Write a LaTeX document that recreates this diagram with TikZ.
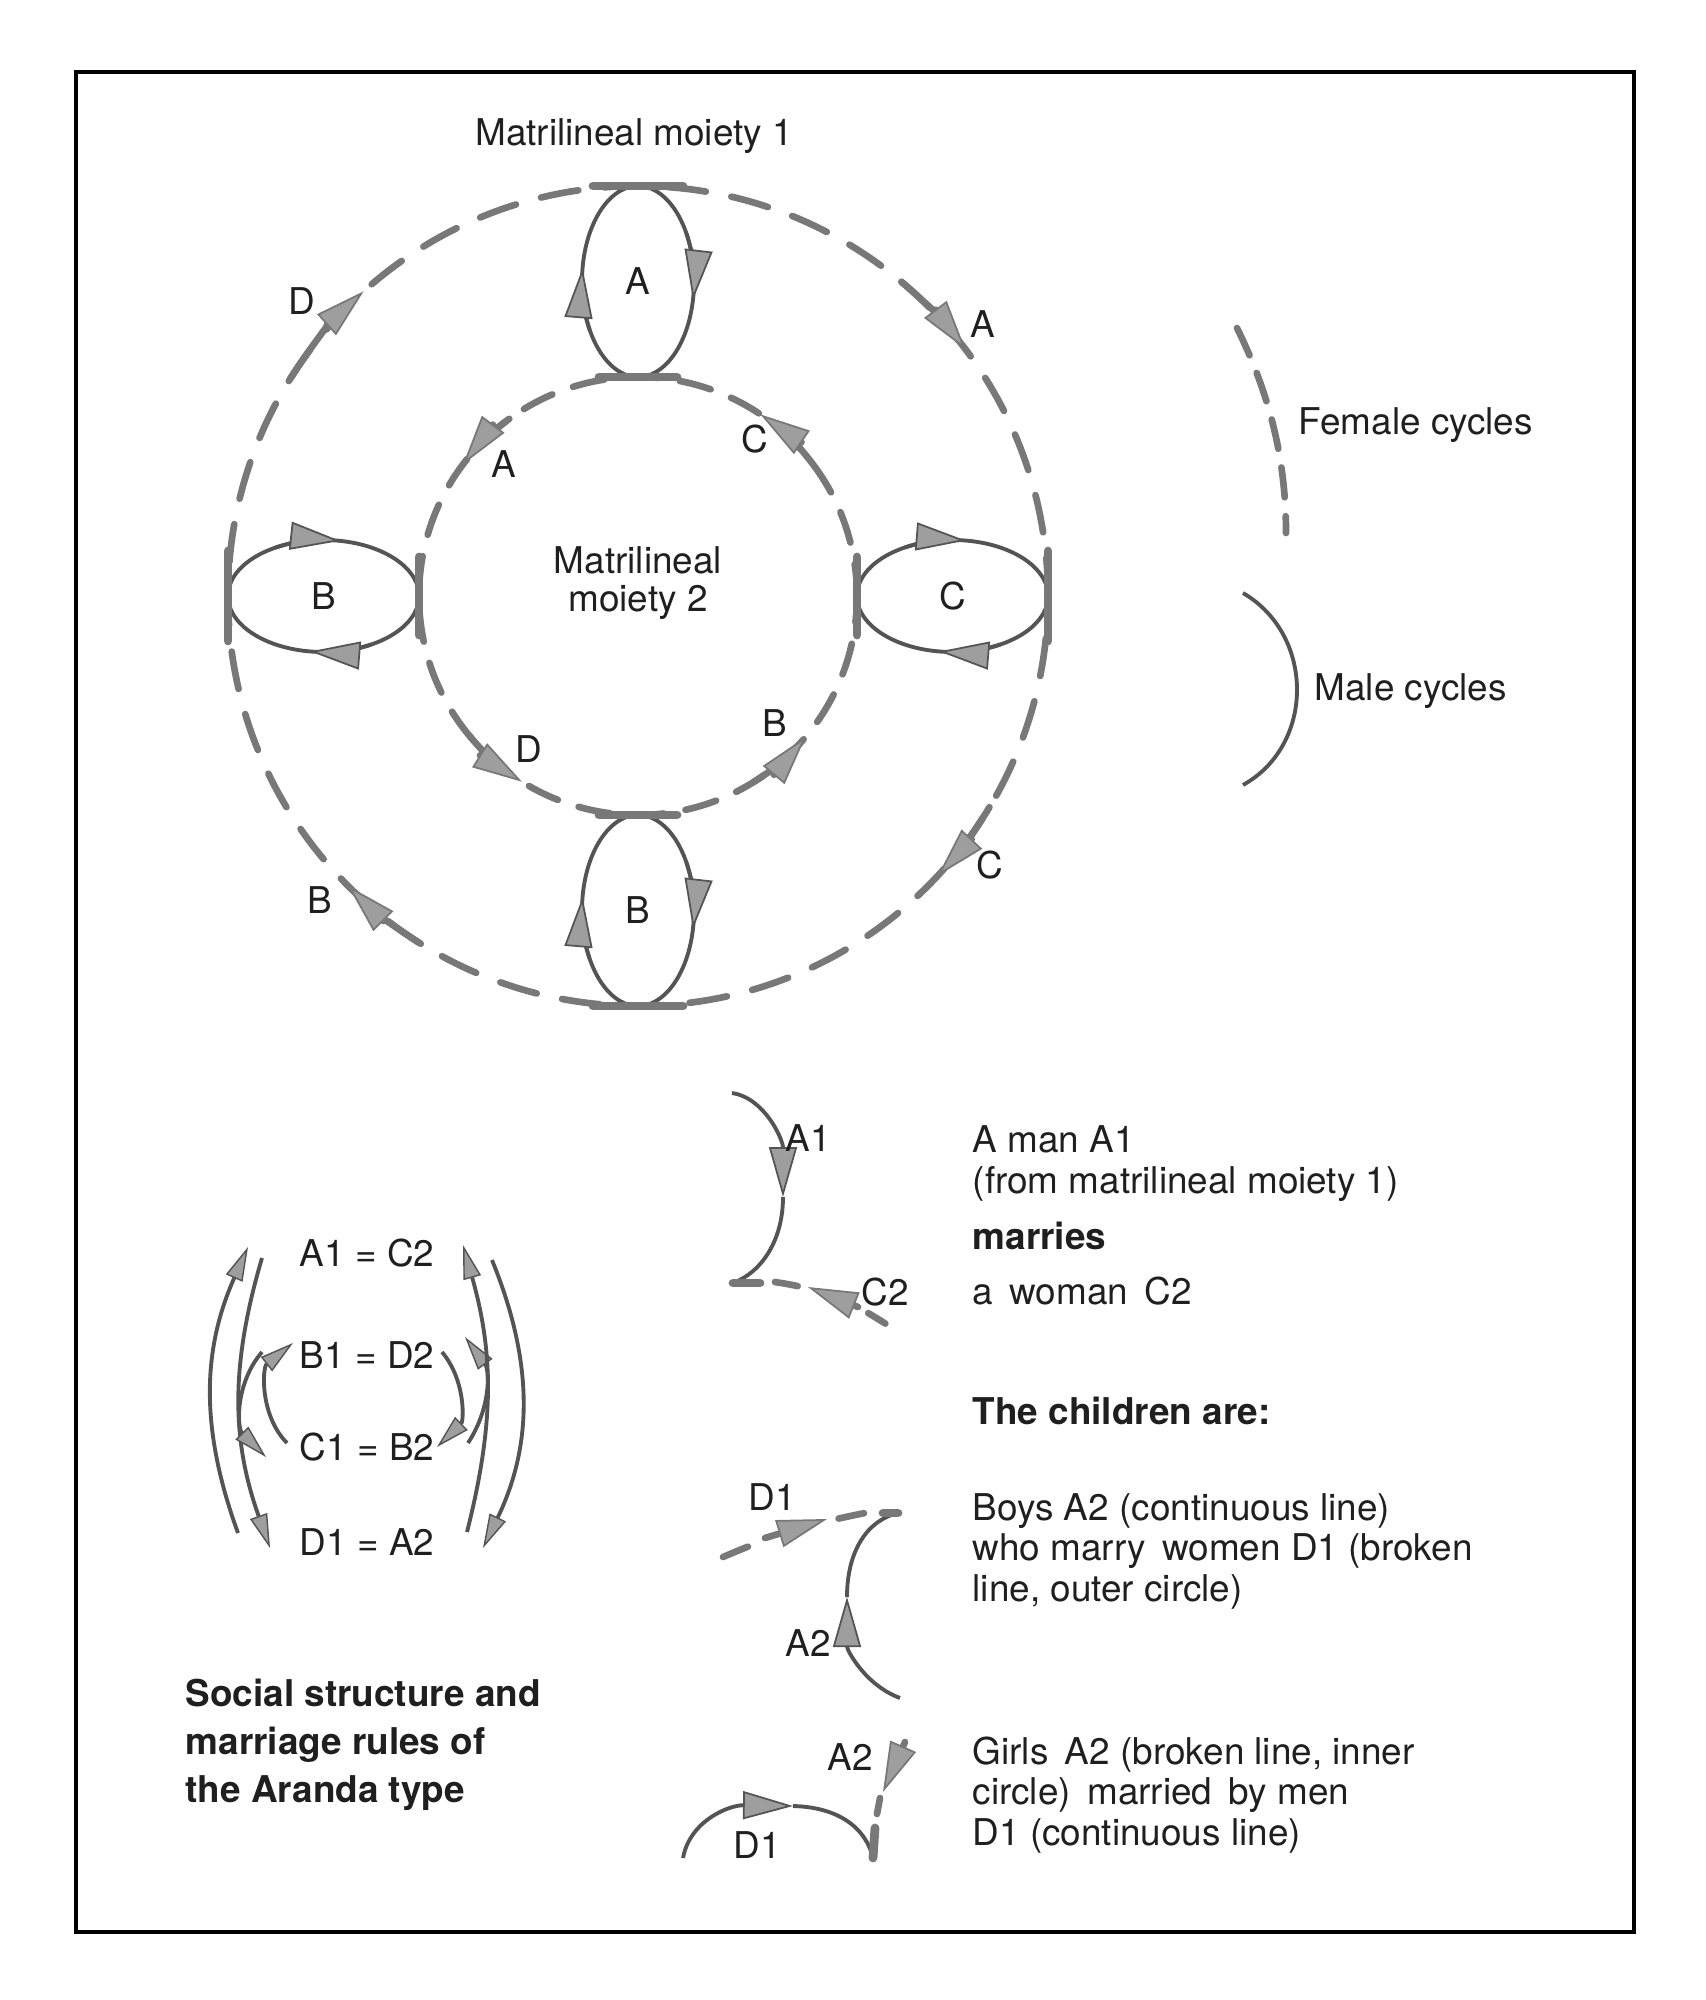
\documentclass[tikz,border=0pt]{standalone}
\usepackage{fontspec}
\setmainfont{TeX Gyre Heros}
\usetikzlibrary{arrows.meta}
\definecolor{cycgray}{gray}{0.47}
\definecolor{malegray}{gray}{0.33}
\definecolor{tipgray}{gray}{0.62}
\definecolor{txtgray}{gray}{0.12}

\begin{document}
\begin{tikzpicture}[
    lbl/.style={font=\fontsize{10.5}{11.5}\selectfont, text=txtgray, inner sep=0pt},
    boldlbl/.style={lbl, font=\fontsize{10.5}{13.6}\selectfont\bfseries},
    female/.style={draw=cycgray, line width=1.9pt, line cap=round, dash pattern=on 0.38cm off 0.26cm},
    femalein/.style={female, dash pattern=on 0.32cm off 0.22cm},
    shaft/.style={draw=cycgray, line width=1.9pt, line cap=round},
    male/.style={draw=malegray, line width=1.1pt},
    capbar/.style={draw=cycgray, line width=2.5pt, line cap=round},
    arrowhd/.style={-{Triangle[length=5mm, width=2.8mm, fill=tipgray, line width=0.5pt]}},
    eqhd/.style={-{Triangle[length=3.4mm, width=1.8mm, fill=tipgray, line width=0.4pt]}}
]
\useasboundingbox (0,0) rectangle (17.05,-20);

% Frame
\draw[line width=1.2pt] (0.76,-0.72) rectangle (16.34,-19.32);

% --- Female cycles (the two dashed circles) ---
\coordinate (c) at (6.38,-5.96);
\draw[female] (c) circle[radius=4.1];
\draw[femalein] (c) circle[radius=2.19];

% --- Male cycles (ellipses between the circles) ---
\node[lbl] (mtop) at (6.38,-2.815) {A};
\node[lbl] (mleft) at (3.235,-5.96) {B};
\node[lbl] (mright) at (9.525,-5.96) {C};
\node[lbl] (mbot) at (6.38,-9.105) {B};

\draw[male] (mtop.center) ellipse[x radius=0.56, y radius=0.955];
\draw[male] (mbot.center) ellipse[x radius=0.56, y radius=0.955];
\draw[male] (mleft.center) ellipse[x radius=0.955, y radius=0.56];
\draw[male] (mright.center) ellipse[x radius=0.955, y radius=0.56];

\draw[male, arrowhd] ([shift={(210:0.56 and 0.955)}]mtop.center) arc[start angle=210, end angle=172, x radius=0.56, y radius=0.955];
\draw[male, arrowhd] ([shift={(30:0.56 and 0.955)}]mtop.center) arc[start angle=30, end angle=-11, x radius=0.56, y radius=0.955];
\draw[male, arrowhd] ([shift={(210:0.56 and 0.955)}]mbot.center) arc[start angle=210, end angle=172, x radius=0.56, y radius=0.955];
\draw[male, arrowhd] ([shift={(30:0.56 and 0.955)}]mbot.center) arc[start angle=30, end angle=-11, x radius=0.56, y radius=0.955];
\draw[male, arrowhd] ([shift={(120:0.955 and 0.56)}]mleft.center) arc[start angle=120, end angle=80, x radius=0.955, y radius=0.56];
\draw[male, arrowhd] ([shift={(300:0.955 and 0.56)}]mleft.center) arc[start angle=300, end angle=262, x radius=0.955, y radius=0.56];
\draw[male, arrowhd] ([shift={(120:0.955 and 0.56)}]mright.center) arc[start angle=120, end angle=82, x radius=0.955, y radius=0.56];
\draw[male, arrowhd] ([shift={(300:0.955 and 0.56)}]mright.center) arc[start angle=300, end angle=262, x radius=0.955, y radius=0.56];

% bars where the ellipses touch the circles
\foreach \a in {0,90,180,270} {
  \draw[capbar] ([shift={(\a:4.1)}]c) ++(\a+90:0.45) -- ++(\a-90:0.9);
  \draw[capbar] ([shift={(\a:2.19)}]c) ++(\a+90:0.39) -- ++(\a-90:0.78);
}

% arrows on the outer circle (clockwise)
\draw[shaft, arrowhd] ([shift={(148:4.1)}]c) arc[start angle=148, end angle=132, radius=4.1];
\draw[shaft, arrowhd] ([shift={(50:4.1)}]c) arc[start angle=50, end angle=37, radius=4.1];
\draw[shaft, arrowhd] ([shift={(-31:4.1)}]c) arc[start angle=-31, end angle=-43, radius=4.1];
\draw[shaft, arrowhd] ([shift={(238:4.1)}]c) arc[start angle=238, end angle=225, radius=4.1];

% arrows on the inner circle (counter-clockwise)
\draw[shaft, arrowhd] ([shift={(126:2.19)}]c) arc[start angle=126, end angle=143, radius=2.19];
\draw[shaft, arrowhd] ([shift={(37:2.19)}]c) arc[start angle=37, end angle=56, radius=2.19];
\draw[shaft, arrowhd] ([shift={(220:2.19)}]c) arc[start angle=220, end angle=238, radius=2.19];
\draw[shaft, arrowhd] ([shift={(302:2.19)}]c) arc[start angle=302, end angle=320, radius=2.19];

% circle labels
\node[lbl] (moiety1) at (6.34,-1.36) {Matrilineal moiety 1};
\node[lbl, align=center, font=\fontsize{10.5}{10.6}\selectfont] (moiety2) at (6.38,-5.83) {Matrilineal\\moiety 2};

\node[lbl] (oD) at (3.02,-3.01) {D};
\node[lbl] (oA) at (9.83,-3.24) {A};
\node[lbl] (oB) at (3.20,-9.00) {B};
\node[lbl] (oC) at (9.90,-8.65) {C};

\node[lbl] (iA) at (5.04,-4.64) {A};
\node[lbl] (iC) at (7.55,-4.39) {C};
\node[lbl] (iD) at (5.29,-7.49) {D};
\node[lbl] (iB) at (7.75,-7.23) {B};

% --- Legend ---
\coordinate (fem1) at (12.37,-3.28);
\coordinate (fem2) at (12.86,-5.33);
\coordinate (mal1) at (12.43,-5.93);
\coordinate (mal2) at (12.43,-7.85);
\draw[female, dash pattern=on 0.3cm off 0.19cm] (fem1) .. controls (12.70,-3.95) and (12.86,-4.6) .. (fem2);
\draw[male] (mal1) .. controls (13.15,-6.35) and (13.15,-7.45) .. (mal2);
\node[lbl, anchor=west] (femtxt) at (12.98,-4.25) {Female cycles};
\node[lbl, anchor=west] (maltxt) at (13.14,-6.91) {Male cycles};

% --- Marriage equations ---
\node[lbl] (eq1) at (3.67,-12.53) {A1 = C2};
\node[lbl] (eq2) at (3.67,-13.55) {B1 = D2};
\node[lbl] (eq3) at (3.67,-14.47) {C1 = B2};
\node[lbl] (eq4) at (3.67,-15.42) {D1 = A2};

\draw[male, eqhd] ([shift={(-1.29,0.09)}]eq4.center) to[bend left=22] ([shift={(-1.19,0.06)}]eq1.center);
\draw[male, eqhd] ([shift={(-1.05,-0.05)}]eq1.center) to[bend right=18] ([shift={(-0.97,-0.06)}]eq4.center);
\draw[male, eqhd] ([shift={(-1.05,0.03)}]eq2.center) to[bend right=43] ([shift={(-1.01,-0.10)}]eq3.center);
\draw[male, eqhd] ([shift={(-0.80,0.04)}]eq3.center) to[bend left=48] ([shift={(-0.74,0.12)}]eq2.center);
\draw[male, eqhd] ([shift={(0.75,0.03)}]eq2.center) to[bend left=43] ([shift={(0.70,0.0)}]eq3.center);
\draw[male, eqhd] ([shift={(1.01,0.04)}]eq3.center) to[bend right=35] ([shift={(0.98,0.18)}]eq2.center);
\draw[male, eqhd] ([shift={(1.00,0.10)}]eq4.center) to[bend right=15] ([shift={(0.96,0.08)}]eq1.center);
\draw[male, eqhd] ([shift={(1.25,-0.07)}]eq1.center) to[bend left=24] ([shift={(1.16,-0.06)}]eq4.center);

\node[boldlbl, anchor=base west, align=left] (caption) at (1.85,-18.02) {Social structure and\\marriage rules of\\the Aranda type};

% --- A man A1 marries a woman C2 ---
\coordinate (a1top) at (7.32,-10.93);
\coordinate (a1mid) at (7.83,-11.97);
\coordinate (a1bot) at (7.33,-12.83);
\draw[male, arrowhd] (a1top) .. controls (7.65,-10.98) and (7.83,-11.4) .. (a1mid);
\draw[male] (a1mid) .. controls (7.83,-12.4) and (7.62,-12.72) .. (a1bot);
\draw[capbar] (a1bot) -- ++(0.27,0);
\coordinate (c2a) at (7.75,-12.82);
\coordinate (c2b) at (8.86,-13.24);
\coordinate (c2s) at (8.58,-13.07);
\coordinate (c2t) at (8.08,-12.87);
\draw[female, dash pattern=on 0.23cm off 0.76cm on 0.2cm off 1cm] (c2a) to[bend left=12] (c2b);
\draw[shaft, arrowhd] (c2s) -- (c2t);
\node[lbl] (lA1) at (8.08,-11.38) {A1};
\node[lbl] (lC2) at (8.85,-12.92) {C2};

\node[lbl, anchor=base west, align=left] (man) at (9.72,-11.93) {A man A1\\(from matrilineal moiety 1)};
\node[boldlbl, anchor=base west] (marries) at (9.72,-12.49) {marries};
\node[lbl, anchor=base west] (woman) at (9.72,-13.04) {a \,woman \,C2};
\node[boldlbl, anchor=base west] (children) at (9.72,-14.24) {The children are:};

% --- Boys A2 ---
\coordinate (a2bot) at (9.00,-16.98);
\coordinate (a2mid) at (8.47,-15.97);
\coordinate (a2top) at (8.98,-15.13);
\draw[male, arrowhd] (a2bot) .. controls (8.65,-16.85) and (8.47,-16.5) .. (a2mid);
\draw[male] (a2mid) .. controls (8.47,-15.5) and (8.68,-15.2) .. (a2top);
\draw[capbar] (a2top) -- ++(-0.15,0);
\coordinate (d1a) at (7.23,-15.57);
\coordinate (d1b) at (8.65,-15.13);
\coordinate (d1s) at (7.65,-15.38);
\coordinate (d1t) at (8.27,-15.19);
\draw[female, dash pattern=on 0.27cm off 0.95cm on 0.26cm off 1cm] (d1a) to[bend left=6] (d1b);
\draw[shaft, arrowhd] (d1s) -- (d1t);
\node[lbl] (lD1) at (7.72,-14.97) {D1};
\node[lbl] (lA2) at (8.08,-16.43) {A2};

\node[lbl, anchor=base west, align=left] (boys) at (9.72,-16.01) {Boys A2 (continuous line)\\who marry \,women D1 (broken\\line, outer circle)};

% --- Girls A2 ---
\coordinate (g1) at (6.83,-18.58);
\coordinate (g2) at (7.93,-18.06);
\coordinate (g3) at (8.73,-18.58);
\draw[male, arrowhd] (g1) .. controls (6.9,-18.2) and (7.3,-18.05) .. (g2);
\draw[male] (g2) .. controls (8.35,-18.07) and (8.65,-18.25) .. (g3);
\draw[capbar] (g3) -- ++(0.02,0.3);
\coordinate (gd1) at (8.80,-17.98);
\coordinate (gd2) at (8.77,-18.14);
\coordinate (gs) at (9.05,-17.42);
\coordinate (gt) at (8.83,-17.92);
\draw[shaft] (gd1) -- (gd2);
\draw[shaft, arrowhd] (gs) -- (gt);
\node[lbl] (lA2g) at (8.50,-17.57) {A2};
\node[lbl] (lD1g) at (7.57,-18.45) {D1};

\node[lbl, anchor=base west, align=left] (girls) at (9.72,-18.45) {Girls \,A2 (broken line, inner\\circle) \,married \,by men\\D1 (continuous line)};

\end{tikzpicture}
\end{document}
